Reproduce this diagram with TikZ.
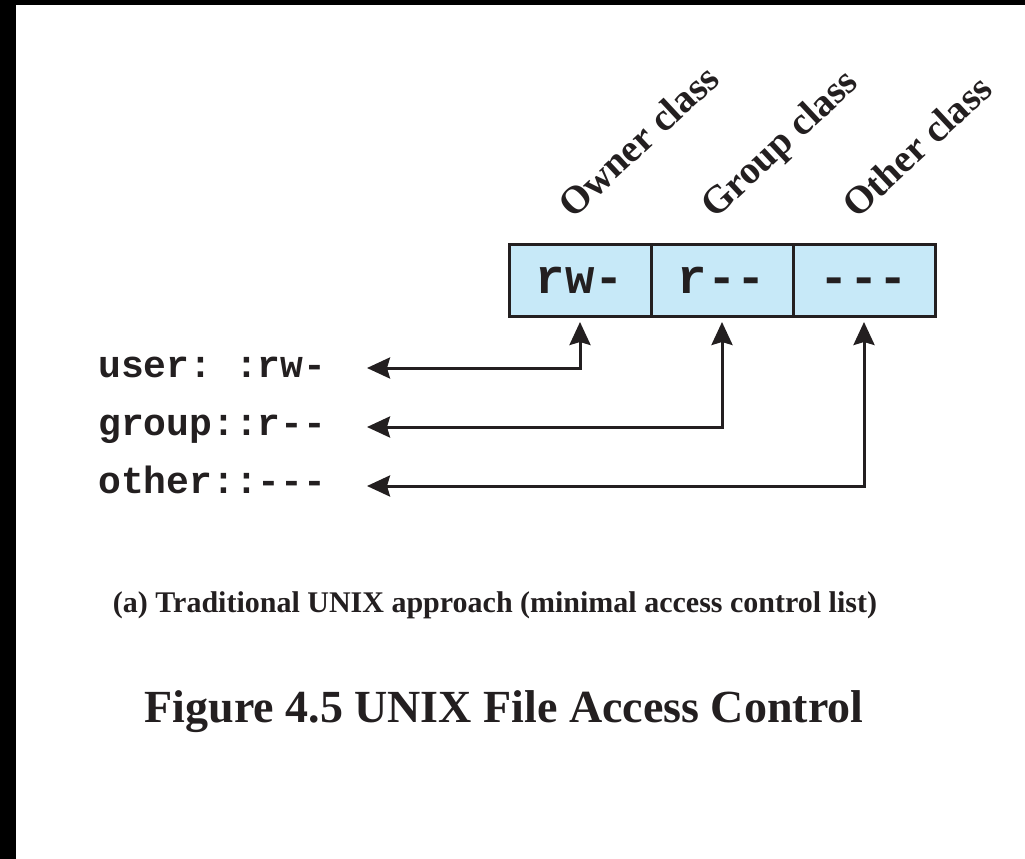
\documentclass[tikz,border=0pt]{standalone}
\usepackage{fontspec}
\setmainfont{Liberation Serif}
\setmonofont{Liberation Mono}
\usetikzlibrary{arrows.meta,positioning}
\definecolor{cellblue}{RGB}{199,233,248}
\definecolor{ink}{RGB}{35,31,32}
\tikzset{
	cell/.style={draw=ink, line width=3pt, fill=cellblue, outer sep=0pt, inner sep=0pt,
		minimum width=142pt, minimum height=72pt, text=ink, text height=26pt, text depth=0pt,
		font=\ttfamily\bfseries\fontsize{49}{49}\selectfont},
	entry/.style={anchor=base west, inner sep=0pt, text=ink,
		font=\ttfamily\bfseries\fontsize{38}{38}\selectfont},
	classlabel/.style={anchor=base west, rotate=43, inner sep=0pt, text=ink,
		font=\bfseries\fontsize{39}{39}\selectfont},
	link/.style={draw=ink, line width=3pt, shorten >=6pt,
		{Stealth[length=23pt,width=21pt,inset=3pt]}-{Stealth[length=23pt,width=21pt,inset=3pt]}}
}
\begin{document}
\begin{tikzpicture}[x=1pt, y=-1pt]
		\useasboundingbox (0,0) rectangle (1025,859);
		\fill[black] (0,0) rectangle (16,859);
		\fill[black] (0,0) rectangle (1025,5);
		
		\node[cell] (own) at (580,280) {rw-};
		\node[cell, right=0pt of own] (grp) {r--};
		\node[cell, right=0pt of grp] (oth) {---};
		
		\node[classlabel] (ownLbl) at (573,220) {Owner class};
		\node[classlabel] (grpLbl) at (715,220) {Group class};
		\node[classlabel] (othLbl) at (857,220) {Other class};
		
		\node[entry] (usr) at (98,377) {user: :rw-};
		\node[entry] (grpEnt) at (98,435) {group::r--};
		\node[entry] (othEnt) at (98,493) {other::---};
		
		\coordinate (usrEnd) at (367,368);
		\coordinate (grpEnd) at (367,427);
		\coordinate (othEnd) at (367,486);
		
		\draw[link] (usrEnd) -| (own.south);
		\draw[link] (grpEnd) -| (grp.south);
		\draw[link] (othEnd) -| (oth.south);
		
		\node[anchor=base, text=ink, font=\bfseries\fontsize{30}{30}\selectfont] (sub) at (495,612)
		{(a) Traditional UNIX approach (minimal access control list)};
		\node[anchor=base, text=ink, font=\bfseries\fontsize{46}{46}\selectfont] (title) at (504,722)
		{Figure 4.5 UNIX File Access Control};
	\end{tikzpicture}
\end{document}
